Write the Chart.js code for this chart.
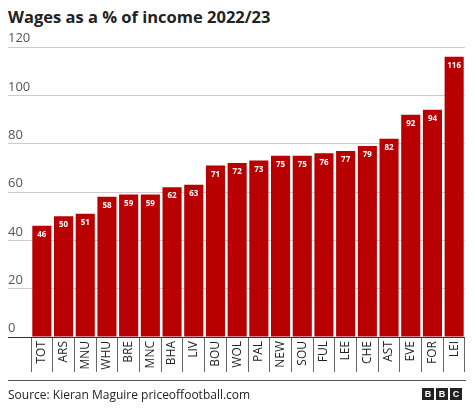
<!DOCTYPE html>
<html><head><meta charset="utf-8">
<script src="https://cdn.jsdelivr.net/npm/chart.js@4"></script>
<style>
body{margin:0;width:474px;height:414px;position:relative;background:#fff;font-family:"Open Sans",sans-serif;overflow:hidden}
#t{position:absolute;left:8px;top:5px;font-size:16.5px;font-weight:bold;color:#222}
#f{position:absolute;left:8px;top:386px;font-size:12px;color:#222}
#ln{position:absolute;left:8px;top:380px;width:458px;height:1px;background:#555}
#bbc{position:absolute;right:12px;top:388px;display:flex;gap:2px}
#bbc span{width:12px;height:12px;background:#222;color:#fff;font:bold 9px "Liberation Sans",sans-serif;text-align:center;line-height:12px}
#c{position:absolute;left:0;top:0}
</style></head><body>
<div id="t">Wages as a % of income 2022/23</div>
<canvas id="c" width="474" height="414"></canvas>
<div id="ln"></div>
<div id="f">Source: Kieran Maguire priceoffootball.com</div>
<div id="bbc"><span>B</span><span>B</span><span>C</span></div>
<script>
const categories=["TOT","ARS","MNU","WHU","BRE","MNC","BHA","LIV","BOU","WOL","PAL","NEW","SOU","FUL","LEE","CHE","AST","EVE","FOR","LEI"];
const values=[46,50,51,58,59,59,62,63,71,72,73,75,75,76,77,79,82,92,94,116];
const yTicks=[0,20,40,60,80,100,120];
const labelsPlugin={id:'lbl',afterDraw(c){
 const ctx=c.ctx,y=c.scales.y,x=c.scales.x,meta=c.getDatasetMeta(0);
 ctx.save();
 ctx.font='13px "Open Sans"';ctx.fillStyle='#555';ctx.textAlign='left';ctx.textBaseline='bottom';
 yTicks.forEach(v=>ctx.fillText(String(v),8,y.getPixelForValue(v)-2));
 ctx.font='bold 8px "Open Sans"';ctx.fillStyle='#fff';ctx.textAlign='center';ctx.textBaseline='top';
 meta.data.forEach((b,i)=>ctx.fillText(String(values[i]),b.x,b.y+5));
 ctx.font='12px "Open Sans"';ctx.fillStyle='#222';
 categories.forEach((s,i)=>{const px=x.getPixelForValue(i);ctx.save();ctx.translate(px,y.bottom+4);ctx.rotate(-Math.PI/2);ctx.textAlign='right';ctx.textBaseline='middle';ctx.fillText(s,0,0);ctx.restore();});
 ctx.strokeStyle='#333';ctx.lineWidth=1;ctx.beginPath();ctx.moveTo(8,y.bottom+0.5);ctx.lineTo(x.right,y.bottom+0.5);ctx.stroke();
 ctx.restore();}};
new Chart(document.getElementById('c'),{type:'bar',
 data:{labels:categories,datasets:[{data:values,backgroundColor:'#b80000',barPercentage:0.88,categoryPercentage:1}]},
 options:{responsive:false,animation:false,events:[],
  layout:{padding:{top:47,bottom:42,left:8,right:9}},
  plugins:{legend:{display:false},tooltip:{enabled:false}},
  scales:{
   y:{min:0,max:120,afterFit(s){s.width=23;},afterBuildTicks(s){s.ticks=yTicks.map(v=>({value:v}));},
      ticks:{display:false},border:{display:false},grid:{color:'#ccc',tickLength:23,drawTicks:true}},
   x:{offset:true,afterFit(s){s.height=35;},ticks:{display:false},border:{display:false},
      grid:{offset:true,drawOnChartArea:false,tickLength:35,color:'#666'}}
  }},plugins:[labelsPlugin]});
</script></body></html>
